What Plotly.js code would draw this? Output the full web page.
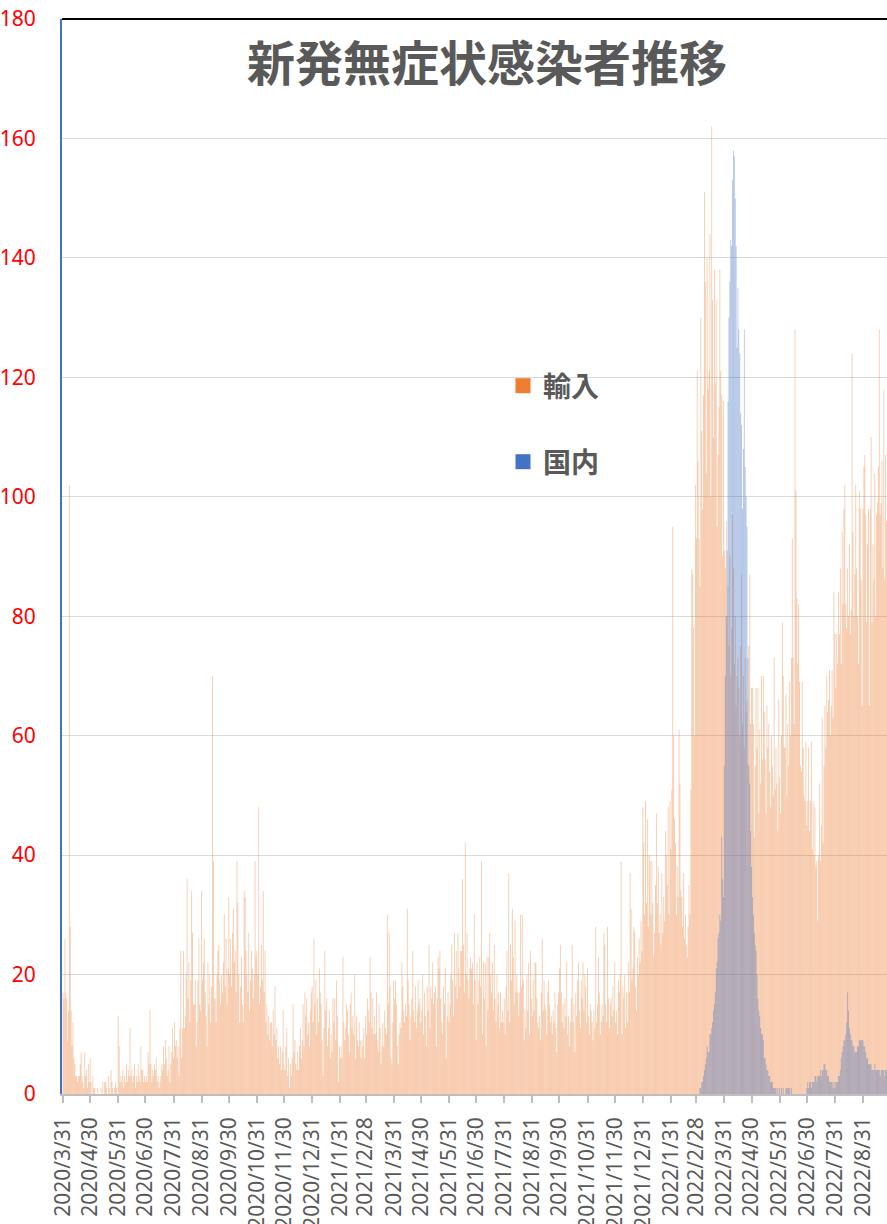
<!DOCTYPE html>
<html><head><meta charset="utf-8">
<script src="https://cdn.plot.ly/plotly-3.0.1.min.js"></script>
<style>html,body{margin:0;padding:0;background:#fff}#chart{width:887px;height:1224px}</style>
</head><body><div id="chart"></div>
<script>
// 輸入 (imported) daily values, from 2020-03-31
const importStart = '2020-03-31';
const imp_2020_03 = [17];
const imp_2020_04 = [16,26,17,16,9,14,102,28,14,8,12,6,5,3,3,2,3,3,5,7,3,2,1,7,3,4,1,5,2,6];
const imp_2020_05 = [2,0,3,1,1,0,0,1,0,0,0,1,0,2,0,2,2,1,0,3,1,0,4,2,1,0,1,2,1,0,13];
const imp_2020_06 = [8,2,3,2,4,1,3,2,5,2,4,3,11,3,4,2,3,5,1,3,2,5,3,2,8,4,4,2,3,2];
const imp_2020_07 = [3,2,7,5,14,5,2,4,3,5,4,6,2,3,1,2,3,5,4,8,5,9,6,3,4,8,2,5,7,11,6];
const imp_2020_08 = [12,8,9,6,8,3,11,24,6,11,24,11,13,20,36,16,22,12,19,34,27,15,15,19,8,12,19,26,15,14,34];
const imp_2020_09 = [19,22,26,17,13,8,22,15,20,12,18,70,39,16,16,12,20,24,25,19,15,20,17,22,30,18,26,15,21,33];
const imp_2020_10 = [20,26,18,27,31,22,24,17,39,32,20,12,18,23,15,12,34,33,24,20,17,27,14,19,24,21,16,20,39,23,24];
const imp_2020_11 = [20,48,15,18,25,19,34,17,24,12,15,10,13,9,12,12,8,14,10,18,9,11,6,8,5,8,4,7,14,5];
const imp_2020_12 = [4,8,11,3,6,1,5,3,6,15,7,9,5,4,7,4,8,11,6,9,15,8,17,13,16,10,12,8,14,17,18];
const imp_2021_01 = [12,26,15,19,10,16,12,21,17,15,9,3,11,24,14,16,8,11,14,6,10,7,16,12,16,9,19,13,2,8,6];
const imp_2021_02 = [8,6,23,12,9,11,15,14,10,7,15,17,11,13,10,20,6,13,9,8,12,9,6,9,8,11,6,13];
const imp_2021_03 = [10,16,14,12,23,17,11,16,10,13,10,17,9,7,15,11,5,8,12,8,14,11,10,30,15,27,18,6,5,12,19];
const imp_2021_04 = [16,19,15,8,5,10,12,11,22,18,14,12,15,13,31,19,15,9,13,16,24,14,12,18,11,14,19,15,16,12];
const imp_2021_05 = [14,20,10,17,13,8,18,14,25,11,18,16,22,15,17,18,8,16,23,21,24,16,12,10,18,15,21,6,13,17,12];
const imp_2021_06 = [15,20,25,19,13,27,18,24,16,27,21,18,24,24,36,25,17,42,20,27,19,16,21,23,21,22,15,30,19,9];
const imp_2021_07 = [22,15,19,23,18,39,10,22,16,22,8,23,14,23,27,20,17,22,14,25,16,12,20,15,17,11,17,12,14,12,16];
const imp_2021_08 = [10,18,24,14,37,12,25,19,31,23,15,29,17,20,17,13,17,30,18,30,19,9,14,11,20,14,22,10,24,16,13];
const imp_2021_09 = [19,14,22,22,16,12,11,13,9,17,26,14,19,15,14,10,17,19,15,12,13,10,14,12,17,11,7,15,17,21];
const imp_2021_10 = [25,17,12,15,11,16,13,22,10,13,8,12,16,25,12,15,7,17,13,19,22,14,11,19,16,22,14,20,18,12,21];
const imp_2021_11 = [13,10,15,14,12,9,14,11,28,12,15,23,17,10,12,15,13,27,25,15,12,28,16,11,15,16,13,18,14,22];
const imp_2021_12 = [12,14,10,19,17,20,39,10,18,16,20,11,17,12,22,17,37,31,19,21,28,27,18,14,23,20,26,22,29,24,48];
const imp_2022_01 = [42,30,49,32,46,28,40,39,30,39,32,23,27,35,47,32,38,27,30,25,37,27,33,29,44,40,35,48,30,49,41];
const imp_2022_02 = [51,95,60,46,42,30,38,33,61,52,34,33,28,37,26,30,25,23,28,35,30,51,88,87,78,60,102,93];
const imp_2022_03 = [121,106,93,85,130,111,98,117,151,136,104,140,118,121,144,100,162,133,110,138,119,133,95,107,115,138,121,117,90,116,91];
const imp_2022_04 = [88,96,80,85,75,90,70,78,97,88,72,80,65,70,73,68,60,75,87,62,70,58,73,64,66,55,75,87,62,68];
const imp_2022_05 = [68,62,43,55,68,58,68,47,61,52,70,56,70,64,56,47,65,58,62,54,48,60,55,50,73,51,58,52,44,66,53];
const imp_2022_06 = [47,60,79,70,58,58,67,50,62,55,69,60,73,93,73,62,128,101,83,72,82,69,55,54,69,58,50,49,59,45];
const imp_2022_07 = [49,58,44,49,59,41,49,40,48,38,39,29,40,52,39,45,63,42,55,65,58,70,64,66,71,60,65,71,63,84,77];
const imp_2022_08 = [68,77,72,84,77,88,72,94,82,98,102,82,78,88,80,92,77,81,124,94,80,87,102,88,80,72,101,98,86,65,98];
const imp_2022_09 = [105,107,97,79,92,98,65,98,110,79,92,86,104,80,97,99,105,128,97,99,106,88,118,86,107,96,88];

// 国内 (domestic) daily values, from 2022-03-01
const domesticStart = '2022-03-01';
const dom_2022_03 = [0,0,0,1,1,2,2,3,4,5,6,8,7,7,10,10,11,12,14,15,17,21,22,26,27,30,29,43,36,33,55];
const dom_2022_04 = [70,80,91,116,130,136,143,142,153,158,157,150,142,125,135,128,124,114,112,98,108,128,105,100,95,73,55,52,44,38];
const dom_2022_05 = [33,30,27,25,24,20,16,14,13,11,10,10,9,6,6,5,4,4,3,3,2,2,2,1,1,1,1,0,1,0,1];
const dom_2022_06 = [0,1,0,1,0,0,1,1,1,1,1,0,1,0,0,0,0,0,0,0,0,0,0,0,0,0,0,0,0,1];
const dom_2022_07 = [2,1,2,2,1,2,2,2,3,3,2,3,3,3,4,3,4,4,5,5,4,4,3,3,2,2,2,2,1,2,1];
const dom_2022_08 = [2,2,2,3,3,4,6,7,8,9,9,10,12,17,14,11,10,9,9,8,8,7,7,7,8,8,9,9,9,9,9];
const dom_2022_09 = [8,8,7,6,6,5,5,5,5,4,4,4,5,4,4,4,4,4,3,4,4,4,4,3,4,4,3];

const tickDates = ['2020-03-31','2020-04-30','2020-05-31','2020-06-30','2020-07-31','2020-08-31','2020-09-30','2020-10-31','2020-11-30','2020-12-31',
  '2021-01-31','2021-02-28','2021-03-31','2021-04-30','2021-05-31','2021-06-30','2021-07-31','2021-08-31','2021-09-30','2021-10-31','2021-11-30','2021-12-31',
  '2022-01-31','2022-02-28','2022-03-31','2022-04-30','2022-05-31','2022-06-30','2022-07-31','2022-08-31'];
const tickLabels = ['2020/3/31','2020/4/30','2020/5/31','2020/6/30','2020/7/31','2020/8/31','2020/9/30','2020/10/31','2020/11/30','2020/12/31',
  '2021/1/31','2021/2/28','2021/3/31','2021/4/30','2021/5/31','2021/6/30','2021/7/31','2021/8/31','2021/9/30','2021/10/31','2021/11/30','2021/12/31',
  '2022/1/31','2022/2/28','2022/3/31','2022/4/30','2022/5/31','2022/6/30','2022/7/31','2022/8/31'];
const yTicks = [0,20,40,60,80,100,120,140,160,180];

const importValues = [].concat(imp_2020_03, imp_2020_04, imp_2020_05, imp_2020_06, imp_2020_07, imp_2020_08,
  imp_2020_09, imp_2020_10, imp_2020_11, imp_2020_12, imp_2021_01, imp_2021_02, imp_2021_03, imp_2021_04,
  imp_2021_05, imp_2021_06, imp_2021_07, imp_2021_08, imp_2021_09, imp_2021_10, imp_2021_11, imp_2021_12,
  imp_2022_01, imp_2022_02, imp_2022_03, imp_2022_04, imp_2022_05, imp_2022_06, imp_2022_07, imp_2022_08, imp_2022_09);
const domesticValues = [].concat(dom_2022_03, dom_2022_04, dom_2022_05, dom_2022_06, dom_2022_07, dom_2022_08, dom_2022_09);

function dayList(start, n) {
  const t0 = Date.UTC(+start.slice(0,4), +start.slice(5,7) - 1, +start.slice(8,10));
  const out = [];
  for (let i = 0; i < n; i++) out.push(new Date(t0 + i * 86400000).toISOString().slice(0,10));
  return out;
}

const DAY = 86400000;
const cjk = '"Noto Sans CJK JP", "Noto Sans CJK SC", sans-serif';
const traces = [
  {type:'bar', name:'輸入', x: dayList(importStart, importValues.length), y: importValues,
   width: 1.0 * DAY, marker:{color:'rgba(237,125,49,0.4)', line:{width:0}}, showlegend:false, hoverinfo:'skip'},
  {type:'bar', name:'国内', x: dayList(domesticStart, domesticValues.length), y: domesticValues,
   width: 1.0 * DAY, marker:{color:'rgba(68,114,196,0.4)', line:{width:0}}, showlegend:false, hoverinfo:'skip'},
  {type:'scatter', mode:'markers', name:'輸入', x:[null], y:[null], legend:'legend',
   marker:{symbol:'square', size:15, color:'#ED7D31'}, hoverinfo:'skip'},
  {type:'scatter', mode:'markers', name:'国内', x:[null], y:[null], legend:'legend2',
   marker:{symbol:'square', size:15, color:'#4472C4'}, hoverinfo:'skip'}
];

const legendBase = {xref:'container', yref:'container', x: 503/887, xanchor:'left', yanchor:'middle',
  bgcolor:'rgba(0,0,0,0)', borderwidth:0,
  font:{family:cjk, size:28, color:'#595959', weight:'bold'}};

const layout = {
  width:887, height:1224,
  margin:{l:62, r:0, t:19, b:130, pad:0, autoexpand:false},
  paper_bgcolor:'#ffffff', plot_bgcolor:'#ffffff',
  barmode:'overlay',
  showlegend:true,
  title:{text:'新発無症状感染者推移', xref:'container', yref:'container', x:487/887, xanchor:'center',
    y:1 - 64/1224, yanchor:'middle', font:{family:cjk, size:48, color:'#595959', weight:'bold'}},
  xaxis:{type:'date', range:['2020-03-29 21:30','2022-09-26 12:00'], tickmode:'array',
    tickvals:tickDates, ticktext:tickLabels, tickangle:-90,
    tickfont:{family:'"Noto Sans", sans-serif', size:21, color:'#595959'},
    ticks:'outside', ticklen:7, tickwidth:1.5, tickcolor:'#BFBFBF',
    showline:true, linecolor:'#BFBFBF', linewidth:1.5, showgrid:false, zeroline:false,
    ticklabelstandoff:6, fixedrange:true, automargin:false},
  yaxis:{range:[0,180], tickmode:'array', tickvals:yTicks, ticktext:yTicks.map(String),
    tickfont:{family:'"Noto Sans", sans-serif', size:21, color:'#FF0000'},
    showline:true, linecolor:'#4472C4', linewidth:2, showgrid:true, gridcolor:'#D9D9D9', gridwidth:1.3,
    zeroline:false, ticks:'', ticklabelstandoff:20, fixedrange:true, automargin:false},
  legend: Object.assign({}, legendBase, {y: 1 - 386/1224}),
  legend2: Object.assign({}, legendBase, {y: 1 - 462/1224}),
  shapes:[{type:'line', xref:'paper', yref:'paper', x0:0, x1:1, y0:1, y1:1, line:{color:'#000000', width:2}}]
};

Plotly.newPlot('chart', traces, layout, {displayModeBar:false, responsive:false});
</script>
</body></html>
